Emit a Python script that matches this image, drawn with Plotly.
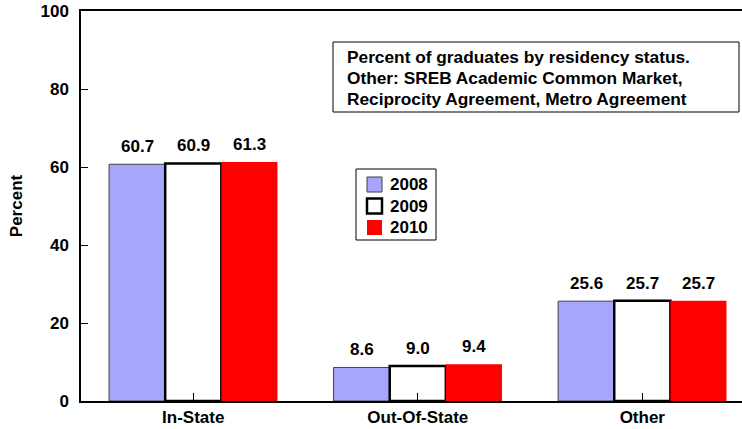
import plotly.graph_objects as go

categories = ["In-State", "Out-Of-State", "Other"]
years = ["2008", "2009", "2010"]
values_2008 = [60.7, 8.6, 25.6]
values_2009 = [60.9, 9.0, 25.7]
values_2010 = [61.3, 9.4, 25.7]
y_ticks = [0, 20, 40, 60, 80, 100]
note_lines = ["Percent of graduates by residency status.",
              "Other: SREB Academic Common Market,",
              "Reciprocity Agreement, Metro Agreement"]

FONT = "Arial, Liberation Sans, sans-serif"
series = [
    (years[0], values_2008, dict(color="#a6a6fc", line=dict(color="#404040", width=1))),
    (years[1], values_2009, dict(color="#ffffff", line=dict(color="#000000", width=2.5))),
    (years[2], values_2010, dict(color="#ff0000", line=dict(color="#ff0000", width=0))),
]

# plot-area pixel geometry (for placing decorations in paper coords)
L, T, W, H = 81, 11, 661, 390
def px(x): return (x - L) / W
def py(y): return (T + H - y) / H

fig = go.Figure()
for name, vals, marker in series:
    fig.add_trace(go.Bar(x=list(range(len(categories))), y=vals, name=name,
                         marker=marker, showlegend=False))

# value labels
bar_w = 0.25
offsets = [-bar_w, 0, bar_w]
for (name, vals, _), off in zip(series, offsets):
    for i, v in enumerate(vals):
        fig.add_annotation(x=i + off, y=v, xref="x", yref="y", text=f"<b>{v:.1f}</b>",
                           showarrow=False, yanchor="bottom", yshift=6,
                           font=dict(family=FONT, size=17, color="black"))

# note box
fig.add_shape(type="rect", xref="paper", yref="paper", x0=px(333), x1=px(739), y0=py(112), y1=py(42),
              line=dict(color="black", width=1), fillcolor="white", layer="above")
for line, yc in zip(note_lines, [57, 78, 99]):
    fig.add_annotation(xref="paper", yref="paper", x=px(345), y=py(yc), xanchor="left", yanchor="middle",
                       align="left", showarrow=False, text=f"<b>{line}</b>",
                       font=dict(family=FONT, size=17.3, color="black"))

# legend (drawn as a box with swatches)
fig.add_shape(type="rect", xref="paper", yref="paper", x0=px(356), x1=px(436), y0=py(240), y1=py(169),
              line=dict(color="black", width=1), fillcolor="white", layer="above")
for (name, _, marker), yc in zip(series, [184.5, 206, 227.5]):
    lw = marker["line"]["width"]
    fig.add_shape(type="rect", xref="paper", yref="paper", x0=px(367), x1=px(382),
                  y0=py(yc + 7.5), y1=py(yc - 7.5), fillcolor=marker["color"],
                  line=dict(color=marker["line"]["color"], width=lw if lw else 0), layer="above")
    fig.add_annotation(xref="paper", yref="paper", x=px(388), y=py(yc), xanchor="left", yanchor="middle",
                       showarrow=False, text=f"<b>{name}</b>",
                       font=dict(family=FONT, size=17, color="black"))

fig.update_layout(
    width=742, height=429,
    margin=dict(l=L, r=742 - L - W, t=T, b=429 - T - H),
    paper_bgcolor="white", plot_bgcolor="white",
    barmode="group", bargap=0.25, bargroupgap=0,
    font=dict(family=FONT, size=17, color="black"),
    showlegend=False,
    xaxis=dict(range=[-0.5, 2.444], tickmode="array", tickvals=list(range(len(categories))),
               ticktext=[f"<b>{c}</b>" for c in categories],
               showline=True, linecolor="black", linewidth=1.5, mirror=True,
               ticks="inside", tickson="boundaries", ticklen=8, tickcolor="black",
               showgrid=False, zeroline=False),
    yaxis=dict(range=[0, 100], tickvals=y_ticks, ticktext=[f"<b>{t}</b>" for t in y_ticks],
               showline=True, linecolor="black", linewidth=1.5,
               ticks="inside", ticklen=7, tickcolor="black", ticklabelstandoff=7,
               showgrid=False, zeroline=False,
               title=dict(text="<b>Percent</b>", standoff=14,
                          font=dict(family=FONT, size=17, color="black"))),
)

fig.write_html("out.html", config={"displayModeBar": False},
               post_script="document.body.style.margin='0';document.body.style.padding='0';")
